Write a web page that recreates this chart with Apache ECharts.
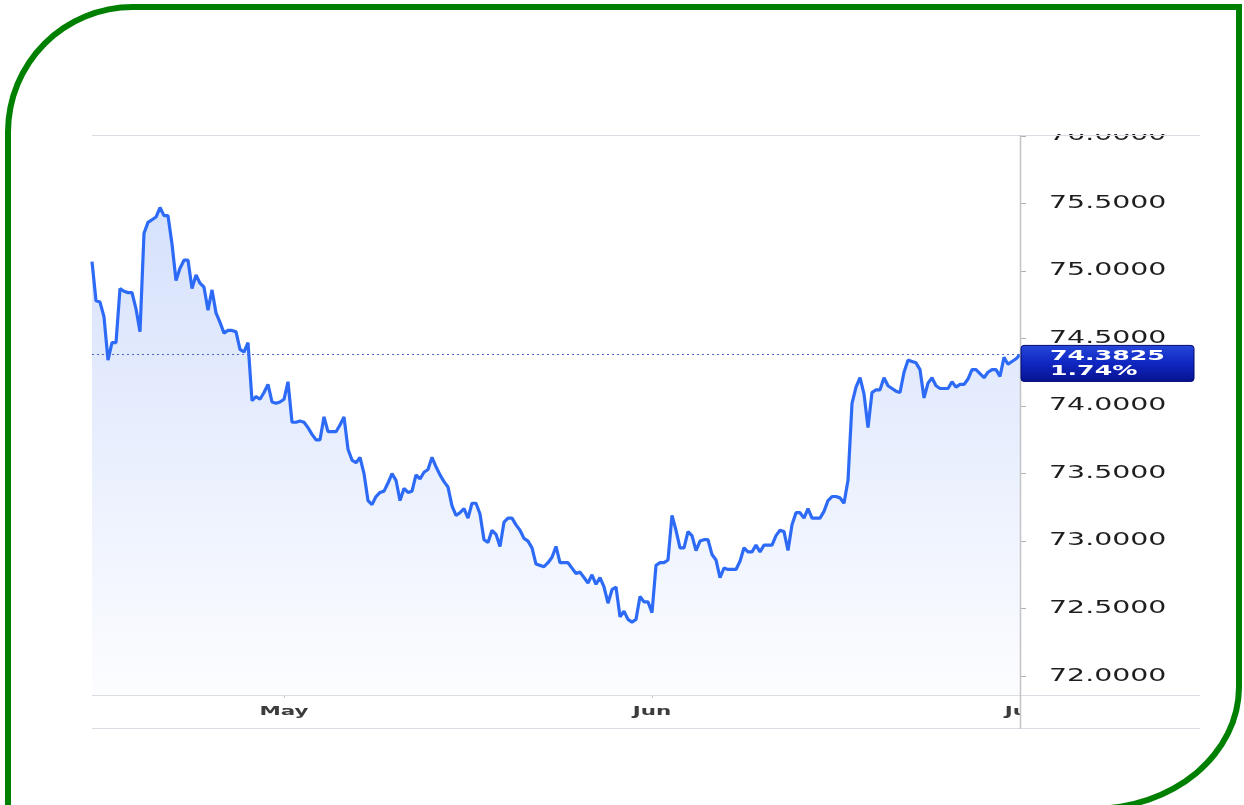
<!DOCTYPE html>
<html><head><meta charset="utf-8">
<script src="https://cdn.jsdelivr.net/npm/echarts@6/dist/echarts.min.js"></script>
<style>
html,body{margin:0;padding:0;background:#fff;overflow:hidden;width:1244px;height:805px;}
#chart{position:absolute;left:0;top:0;width:1244px;height:805px;}
#frame{position:absolute;left:5px;top:4px;width:1237px;height:808px;box-sizing:border-box;border:6px solid #008000;border-radius:128px 0 150px 0 / 128px 0 125px 0;pointer-events:none;}
</style></head><body>
<div id="chart"></div><div id="frame"></div>
<script>
// USD rate samples, evenly spaced from mid-April to 1 July
const rates = [
75.07,74.78,74.77,74.66,74.34,74.47,74.47,74.87,74.85,74.84,
74.84,74.72,74.55,75.28,75.36,75.38,75.40,75.47,75.41,75.41,
75.20,74.93,75.02,75.08,75.08,74.87,74.97,74.91,74.88,74.71,
74.86,74.69,74.62,74.54,74.56,74.56,74.55,74.42,74.40,74.47,
74.04,74.07,74.05,74.10,74.16,74.03,74.02,74.03,74.05,74.18,
73.88,73.88,73.89,73.88,73.84,73.79,73.75,73.75,73.92,73.81,
73.81,73.81,73.86,73.92,73.68,73.60,73.58,73.62,73.50,73.30,
73.27,73.33,73.36,73.37,73.43,73.50,73.45,73.30,73.39,73.36,
73.37,73.49,73.46,73.51,73.53,73.62,73.55,73.49,73.44,73.40,
73.26,73.19,73.21,73.24,73.17,73.28,73.28,73.20,73.01,72.99,
73.08,73.05,72.96,73.14,73.17,73.17,73.12,73.08,73.02,73.00,
72.95,72.83,72.82,72.81,72.84,72.88,72.96,72.84,72.84,72.84,
72.80,72.76,72.77,72.73,72.69,72.75,72.68,72.73,72.66,72.54,
72.64,72.66,72.44,72.48,72.42,72.40,72.42,72.59,72.55,72.55,
72.47,72.82,72.84,72.84,72.86,73.19,73.08,72.95,72.95,73.07,
73.04,72.93,73.00,73.01,73.01,72.90,72.86,72.73,72.80,72.79,
72.79,72.79,72.85,72.95,72.92,72.92,72.97,72.92,72.97,72.97,
72.97,73.04,73.08,73.07,72.93,73.12,73.21,73.21,73.17,73.24,
73.17,73.17,73.17,73.22,73.30,73.33,73.33,73.32,73.28,73.45,
74.02,74.14,74.21,74.09,73.84,74.10,74.12,74.12,74.21,74.15,
74.13,74.11,74.10,74.25,74.34,74.33,74.32,74.27,74.06,74.17,
74.21,74.15,74.13,74.13,74.13,74.18,74.14,74.16,74.16,74.20,
74.27,74.27,74.24,74.21,74.25,74.27,74.27,74.22,74.36,74.31,
74.33,74.35,74.38
];
const monthLabels = ['May','Jun','Jul'];
const monthIndex = [48,140,232];
const yTicks = [72.0,72.5,73.0,73.5,74.0,74.5,75.0,75.5,76.0];
const lastRate = 74.3825;
const lastChange = '1.74%';

const chart = echarts.init(document.getElementById('chart'), null, {renderer:'canvas'});
const option = {
  animation:false,
  backgroundColor:'#ffffff',
  grid:{left:92,right:224,top:136,bottom:110},
  xAxis:{
    type:'category', boundaryGap:false,
    data: rates.map((_, i) => i),
    axisLine:{show:false},
    axisTick:{show:true, interval:(i) => monthIndex.indexOf(i) >= 0, length:3, lineStyle:{color:'#c8c8d0'}},
    axisLabel:{show:false},
    splitLine:{show:false}
  },
  yAxis:{
    type:'value', position:'right', min:71.86, max:76,
    axisLine:{show:false},
    axisTick:{show:true, customValues:yTicks, length:6, lineStyle:{color:'#b0b0b0'}},
    axisLabel:{show:false},
    splitLine:{show:false}
  },
  series:[{
    type:'line', data:rates, symbol:'none', showSymbol:false,
    lineStyle:{color:'#2d6bf7', width:3.2},
    areaStyle:{color:new echarts.graphic.LinearGradient(0,0,0,1,[
      {offset:0,color:'#c4d4fa'},{offset:1,color:'#fbfcff'}])},
    markLine:{
      silent:true, symbol:['none','none'], label:{show:false},
      lineStyle:{type:[2,3], color:'#4a66c8', width:1},
      data:[{yAxis:lastRate}]
    }
  }]
};
chart.setOption(option);

const px = i => chart.convertToPixel({xAxisIndex:0}, i);
const py = v => chart.convertToPixel({yAxisIndex:0}, v);
const xL = px(0), xR = px(rates.length - 1);
const yTop = py(76), yBot = py(71.86);
const g = [];
// y labels
yTicks.forEach(v => {
  g.push({type:'text', x:xR + 29, y:py(v), scaleX:1.67, z:50,
    style:{text:v.toFixed(4), font:'17px "DejaVu Sans"', fill:'#1e1e1e',
      align:'left', verticalAlign:'middle', textAlign:'left', textVerticalAlign:'middle'}});
});
// month labels
monthIndex.forEach((idx, k) => {
  g.push({type:'text', x:px(idx), y:yBot + 17, scaleX:1.65, z:50,
    style:{text:monthLabels[k], font:'bold 13px "DejaVu Sans"', fill:'#3c3c3c',
      align:'center', verticalAlign:'middle', textAlign:'center', textVerticalAlign:'middle'}});
});
// clip masks
g.push({type:'rect', z:60, shape:{x:xR + 2, y:0, width:200, height:yTop - 2}, style:{fill:'#fff'}});
g.push({type:'rect', z:60, shape:{x:xR + 1, y:yBot + 4, width:26, height:28}, style:{fill:'#fff'}});
// frame lines
const lc = '#dcdce4';
g.push({type:'line', z:70, shape:{x1:xL, y1:yTop - 0.5, x2:1200, y2:yTop - 0.5}, style:{stroke:lc, lineWidth:1}});
g.push({type:'line', z:70, shape:{x1:xL, y1:yBot + 0.5, x2:1200, y2:yBot + 0.5}, style:{stroke:lc, lineWidth:1}});
g.push({type:'line', z:70, shape:{x1:xL, y1:yBot + 33.5, x2:1200, y2:yBot + 33.5}, style:{stroke:lc, lineWidth:1}});
g.push({type:'line', z:70, shape:{x1:xR + 0.5, y1:yTop - 1, x2:xR + 0.5, y2:yBot + 34}, style:{stroke:'#c4c4c8', lineWidth:1.5}});
// current value box
const yl = py(lastRate);
g.push({type:'rect', z:80, shape:{x:xR + 1, y:yl - 9, width:173, height:36, r:3},
  style:{fill:new echarts.graphic.LinearGradient(0,0,0,1,[
    {offset:0,color:'#2648da'},{offset:0.5,color:'#0f26c0'},{offset:1,color:'#071290'}]),
    stroke:'#000a70', lineWidth:1}});
g.push({type:'text', z:81, x:xR + 30, y:yl + 2, scaleX:1.8,
  style:{text:lastRate.toFixed(4), font:'bold 14px "DejaVu Sans"', fill:'#fff',
    align:'left', verticalAlign:'middle', textAlign:'left', textVerticalAlign:'middle'}});
g.push({type:'text', z:81, x:xR + 30, y:yl + 17, scaleX:1.8,
  style:{text:lastChange, font:'bold 14px "DejaVu Sans"', fill:'#fff',
    align:'left', verticalAlign:'middle', textAlign:'left', textVerticalAlign:'middle'}});
chart.setOption({graphic:{elements:g}});
</script>
</body></html>
